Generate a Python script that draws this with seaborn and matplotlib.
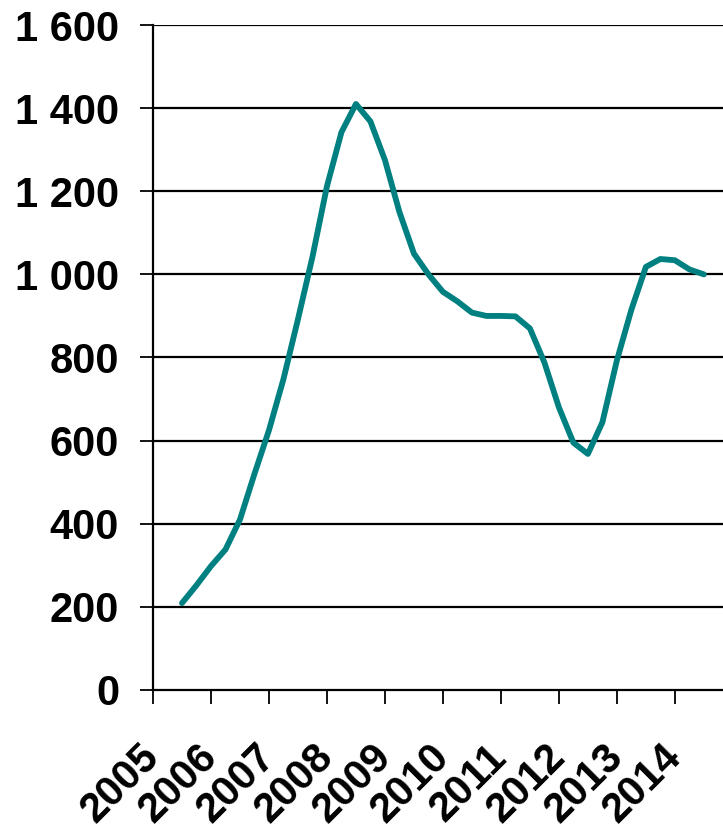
import matplotlib
matplotlib.use("Agg")
import matplotlib.pyplot as plt
import seaborn as sns
import pandas as pd

# Quarterly series, first point mid-2005
start_year = 2005.5
values = [209, 252, 298, 338, 410, 520, 625, 748, 892, 1042,
          1212, 1342, 1410, 1368, 1275, 1150, 1050, 1000, 958, 935,
          908, 900, 900, 899, 870, 788, 680, 595, 568, 644,
          793, 915, 1018, 1037, 1034, 1012, 1000]
years = [2005, 2006, 2007, 2008, 2009, 2010, 2011, 2012, 2013, 2014]
y_ticks = [0, 200, 400, 600, 800, 1000, 1200, 1400, 1600]
y_labels = ["0", "200", "400", "600", "800", "1 000", "1 200", "1 400", "1 600"]

df = pd.DataFrame({
    "t": [start_year + 0.25 * i for i in range(len(values))],
    "v": values,
})

sns.set_style("white")
plt.rcParams["font.family"] = ["Liberation Sans", "DejaVu Sans"]
plt.rcParams["font.weight"] = "bold"

fig = plt.figure(figsize=(7.23, 8.31), dpi=100)
ax = fig.add_axes([0.2116, 0.1697, 0.7884, 0.8002])

sns.lineplot(data=df, x="t", y="v", ax=ax, color="#008080", linewidth=4.2,
             solid_joinstyle="round", solid_capstyle="round", zorder=3)

ax.set_xlim(2005, 2014.83)
ax.set_ylim(0, 1600)

ax.set_yticks(y_ticks)
ax.set_yticklabels(y_labels, fontsize=30, fontweight="bold")
ax.set_xticks(years)
ax.set_xticklabels([str(y) for y in years], fontsize=30, fontweight="bold",
                   rotation=45, ha="right", va="center", rotation_mode="anchor")

for yv in y_ticks[1:]:
    ax.axhline(yv, color="black", linewidth=1.6, zorder=1)

for s in ["top", "right"]:
    ax.spines[s].set_visible(False)
for s in ["left", "bottom"]:
    ax.spines[s].set_color("black")
    ax.spines[s].set_linewidth(1.6)

ax.tick_params(axis="y", direction="out", length=9.4, width=1.3, pad=15,
               colors="black", left=True)
ax.tick_params(axis="x", direction="out", length=10, width=1.3, pad=34,
               colors="black", bottom=True)
ax.set_xlabel("")
ax.set_ylabel("")
ax.grid(False)

fig.savefig("out.png", dpi=100, facecolor="white")
